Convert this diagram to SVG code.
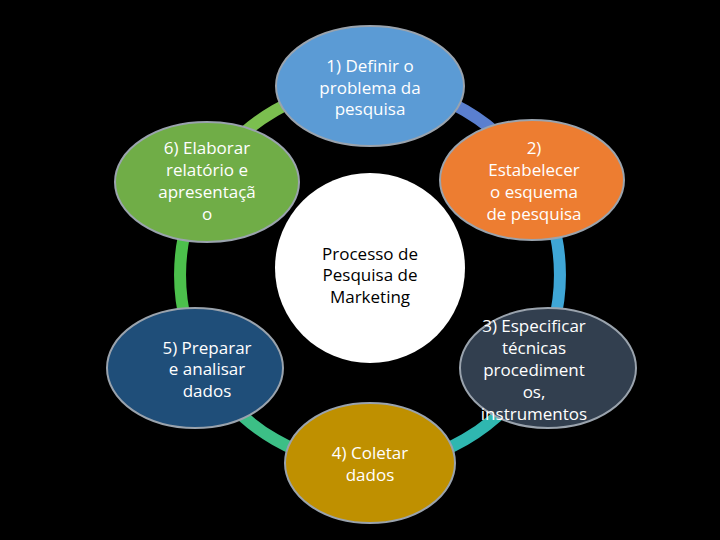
<svg xmlns="http://www.w3.org/2000/svg" width="720" height="540" viewBox="0 0 720 540">
<style>
.t{font-family:"Open Sans","DejaVu Sans",sans-serif;font-size:17px;fill:#fff;text-anchor:middle}
.c{font-family:"Open Sans","DejaVu Sans",sans-serif;font-size:17px;fill:#000;text-anchor:middle}
.n{stroke:#9aa3ad;stroke-width:2}
.arc{fill:none;stroke-width:12}
</style>
<rect width="720" height="540" fill="#000"/>
<g id="connectors">
<path class="arc" stroke="#5a7fcf" d="M370 85 A190 190 0 0 1 534.5 180"/>
<path class="arc" stroke="#3fa6d6" d="M534.5 180 A190 190 0 0 1 534.5 370"/>
<path class="arc" stroke="#2fb7b0" d="M534.5 370 A190 190 0 0 1 370 465"/>
<path class="arc" stroke="#3cbf86" d="M370 465 A190 190 0 0 1 205.5 370"/>
<path class="arc" stroke="#4cc04c" d="M205.5 370 A190 190 0 0 1 205.5 180"/>
<path class="arc" stroke="#7bbf4f" d="M205.5 180 A190 190 0 0 1 370 85"/>
</g>
<g id="center"><circle cx="370" cy="268" r="95" fill="#fff"/>
<text class="c"><tspan x="370" y="260">Processo de</tspan><tspan x="370" y="281">Pesquisa de</tspan><tspan x="370" y="303">Marketing</tspan></text></g>
<g id="n1"><ellipse class="n" cx="370" cy="86" rx="94" ry="60" fill="#5b9bd5"/>
<text class="t"><tspan x="370" y="72">1) Definir o</tspan><tspan x="370" y="94">problema da</tspan><tspan x="370" y="115">pesquisa</tspan></text></g>
<g id="n2"><ellipse class="n" cx="532" cy="180" rx="92" ry="60" fill="#ed7d31"/>
<text class="t"><tspan x="534" y="154">2)</tspan><tspan x="534" y="176">Estabelecer</tspan><tspan x="534" y="198">o esquema</tspan><tspan x="534" y="220">de pesquisa</tspan></text></g>
<g id="n3"><ellipse class="n" cx="548" cy="368" rx="88" ry="60" fill="#323f4f"/>
<text class="t"><tspan x="534" y="332">3) Especificar</tspan><tspan x="534" y="354">técnicas</tspan><tspan x="534" y="376">procediment</tspan><tspan x="534" y="398">os,</tspan><tspan x="534" y="420">instrumentos</tspan></text></g>
<g id="n4"><ellipse class="n" cx="370" cy="463" rx="85" ry="60" fill="#bf9000"/>
<text class="t"><tspan x="370" y="459">4) Coletar</tspan><tspan x="370" y="481">dados</tspan></text></g>
<g id="n5"><ellipse class="n" cx="195" cy="368" rx="88" ry="60" fill="#1f4e79"/>
<text class="t"><tspan x="207" y="354">5) Preparar</tspan><tspan x="207" y="375">e analisar</tspan><tspan x="207" y="397">dados</tspan></text></g>
<g id="n6"><ellipse class="n" cx="207" cy="182" rx="92" ry="60" fill="#70ad47"/>
<text class="t"><tspan x="207" y="154">6) Elaborar</tspan><tspan x="207" y="176">relatório e</tspan><tspan x="207" y="198">apresentaçã</tspan><tspan x="207" y="220">o</tspan></text></g>
</svg>
